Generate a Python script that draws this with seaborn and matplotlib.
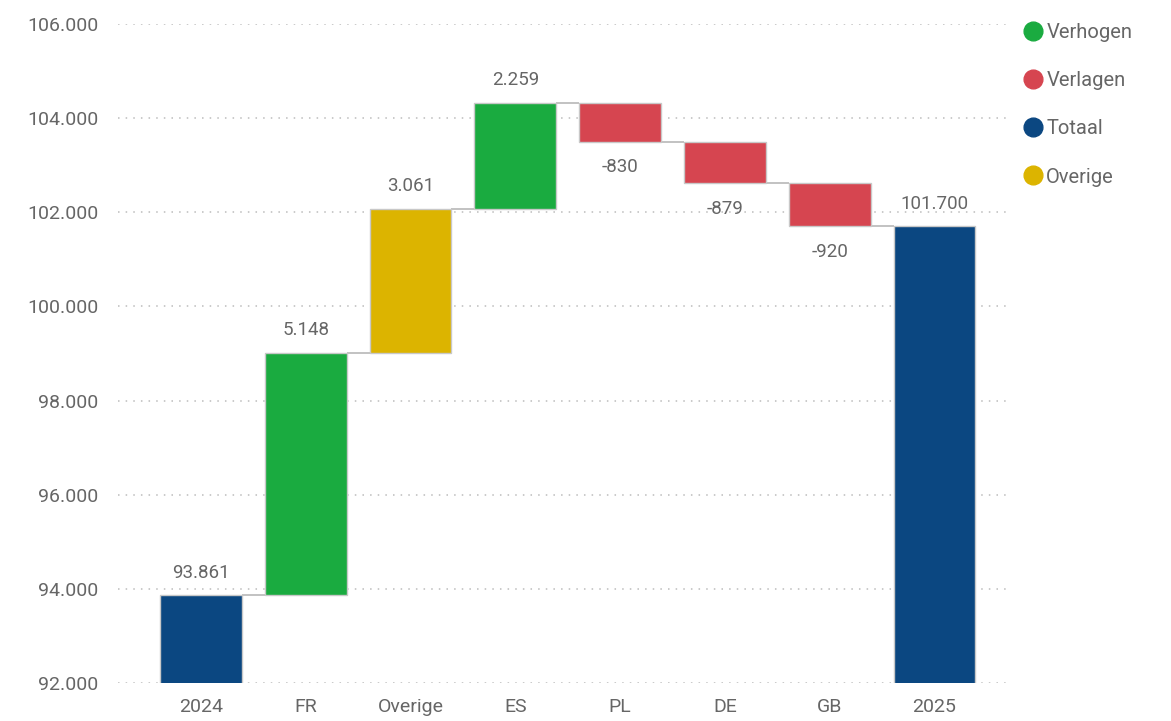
import numpy as np
import matplotlib
matplotlib.use("Agg")
import matplotlib.pyplot as plt
from matplotlib.lines import Line2D
import seaborn as sns

# waterfall data
categories = ["2024", "FR", "Overige", "ES", "PL", "DE", "GB", "2025"]
values = [93861, 5148, 3061, 2259, -830, -879, -920, 101700]
kinds = ["Totaal", "Verhogen", "Overige", "Verhogen", "Verlagen", "Verlagen", "Verlagen", "Totaal"]
legend_order = ["Verhogen", "Verlagen", "Totaal", "Overige"]
yticks = [92000, 94000, 96000, 98000, 100000, 102000, 104000, 106000]

COLORS = {
    "Verhogen": "#1aab40",
    "Verlagen": "#d64550",
    "Totaal": "#0b4781",
    "Overige": "#dcb400",
}
TXT = "#666666"


def fmt(v):
    return f"{v:,}".replace(",", ".")


# running totals -> bar bottoms / heights
tops, bottoms, levels = [], [], []
run = 0
for v, k in zip(values, kinds):
    if k == "Totaal":
        bottoms.append(0)
        tops.append(v)
        run = v
    else:
        new = run + v
        bottoms.append(min(run, new))
        tops.append(max(run, new))
        run = new
    levels.append(run)
heights = [t - b for t, b in zip(tops, bottoms)]

sns.set_theme(style="white")
plt.rcParams["font.family"] = ["Roboto", "DejaVu Sans"]

fig = plt.figure(figsize=(11.71, 7.21), dpi=100)
ax = fig.add_axes([0.1008, 0.0527, 0.7617, 0.914])

sns.barplot(
    x=categories,
    y=heights,
    bottom=bottoms,
    color="#888888",
    saturation=1,
    width=0.78,
    edgecolor="#c8c8c8",
    linewidth=1.0,
    ax=ax,
    zorder=3,
)
for patch, k in zip(ax.patches, kinds):
    patch.set_facecolor(COLORS[k])

# connector lines
w = 0.78
for i in range(len(categories) - 1):
    ax.hlines(levels[i], i + w / 2, i + 1 - w / 2, color="#bdbdbd", lw=1.3, zorder=2)

# value labels
for i, (v, k) in enumerate(zip(values, kinds)):
    if k != "Totaal" and v < 0:
        ax.annotate(fmt(v), (i, bottoms[i]), xytext=(0, -12), textcoords="offset points",
                    ha="center", va="top", fontsize=13.5, color=TXT)
    else:
        ax.annotate(fmt(v), (i, tops[i]), xytext=(0, 10), textcoords="offset points",
                    ha="center", va="bottom", fontsize=13.5, color=TXT)

ax.set_ylim(92000, 106000)
ax.set_xlim(-0.79, 7.72)
ax.set_yticks(yticks)
ax.set_yticklabels([fmt(t) for t in yticks])
ax.yaxis.grid(True, linestyle=(0, (1, 4)), color="#bcbcbc", lw=1.1, zorder=0)
ax.xaxis.grid(False)
ax.tick_params(axis="both", length=0, labelsize=14, labelcolor=TXT)
ax.tick_params(axis="x", pad=11)
ax.tick_params(axis="y", pad=14)
for s in ax.spines.values():
    s.set_visible(False)
ax.set_xlabel("")
ax.set_ylabel("")

handles = [Line2D([], [], marker="o", ls="", markersize=13.5, color=COLORS[k]) for k in legend_order]
leg = ax.legend(handles, legend_order, loc="upper left", bbox_to_anchor=(1.0, 1.02),
                frameon=False, fontsize=14.5, labelspacing=1.45, handletextpad=0.1,
                handlelength=1.1, borderaxespad=0.2)
for t in leg.get_texts():
    t.set_color(TXT)

fig.savefig("out.png", dpi=100)
